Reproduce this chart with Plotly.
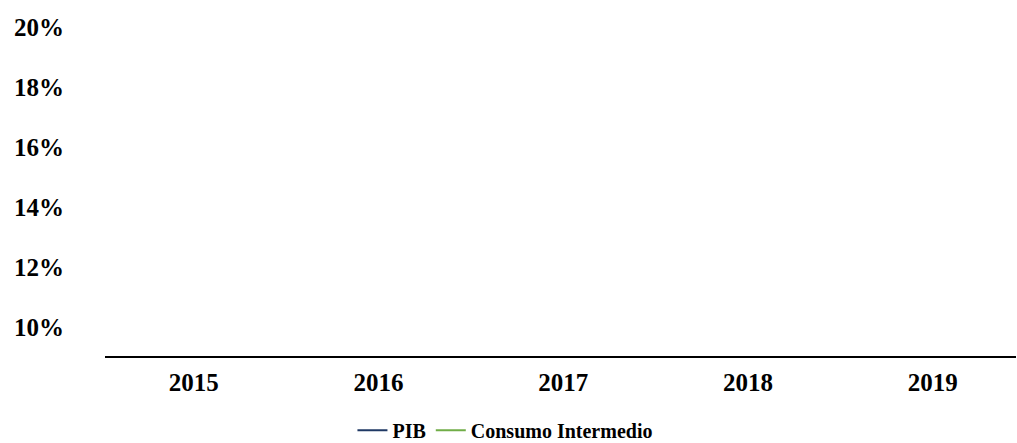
import plotly.graph_objects as go

years = ["2015", "2016", "2017", "2018", "2019"]
# No data points are visible inside the plotted range in the reference
pib = [None, None, None, None, None]
consumo_intermedio = [None, None, None, None, None]

y_ticks = [0.10, 0.12, 0.14, 0.16, 0.18, 0.20]
y_tick_labels = ["10%", "12%", "14%", "16%", "18%", "20%"]

FONT = "Liberation Serif, Times New Roman, serif"

fig = go.Figure()
fig.add_trace(go.Scatter(x=years, y=pib, mode="lines", name="PIB",
                         line=dict(color="#1F3864", width=2)))
fig.add_trace(go.Scatter(x=years, y=consumo_intermedio, mode="lines",
                         name="Consumo Intermedio",
                         line=dict(color="#70AD47", width=2)))

fig.update_layout(
    width=1017, height=443,
    margin=dict(l=105, r=1, t=27, b=87, autoexpand=False),
    paper_bgcolor="white", plot_bgcolor="white",
    font=dict(family=FONT, color="black", weight="bold"),
    showlegend=True,
    legend=dict(orientation="h", xref="container", yref="paper",
                x=0.497, xanchor="center", y=-0.226, yanchor="middle",
                font=dict(family=FONT, size=20, weight="bold", color="black"),
                itemwidth=30, traceorder="normal"),
)
fig.update_xaxes(type="category", range=[-0.48, 4.45],
                 showgrid=False, zeroline=False,
                 showline=True, linecolor="black", linewidth=2,
                 ticks="", ticklabelstandoff=3,
                 tickfont=dict(family=FONT, size=25, weight="bold", color="black"))
fig.update_yaxes(range=[0.0906, 0.20], tickvals=y_ticks, ticktext=y_tick_labels,
                 showgrid=False, zeroline=False, showline=False, ticks="",
                 ticklabelstandoff=40,
                 tickfont=dict(family=FONT, size=25, weight="bold", color="black"))

fig.write_html(
    "out.html",
    config={"displayModeBar": False},
    post_script="document.body.style.margin='0';document.body.style.overflow='hidden';",
)
